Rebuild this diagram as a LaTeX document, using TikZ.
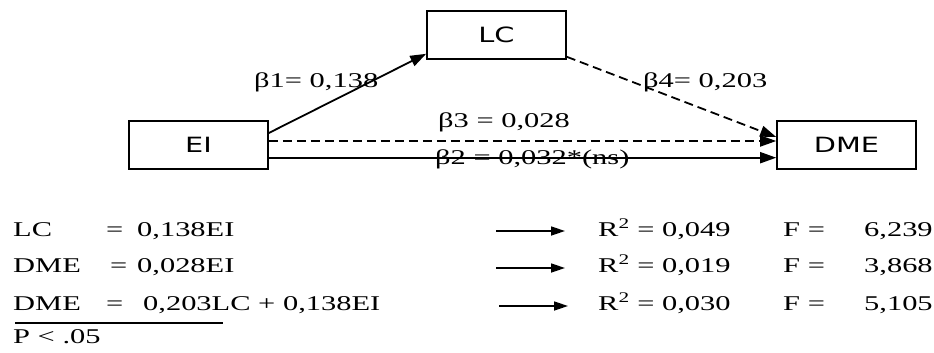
\documentclass[tikz,border=0pt]{standalone}
\usepackage{fontspec}
\setmainfont[FakeStretch=1.45]{Liberation Serif}
\newfontfamily\boxfont[FakeStretch=1.37]{DejaVu Sans}
\usetikzlibrary{arrows.meta}
\begin{document}
\begin{tikzpicture}[x=1pt,y=-1pt,
  box/.style={draw, line width=1.6pt, minimum width=139pt, minimum height=48pt, inner sep=0pt, font=\boxfont\fontsize{21}{24}\selectfont},
  arr/.style={line width=1.8pt, -{Triangle[length=16pt,width=11pt]}},
  dsh/.style={arr, dash pattern=on 9pt off 5pt},
  blab/.style={font=\fontsize{21}{24}\selectfont, inner sep=0pt, anchor=base west},
  txt/.style={font=\fontsize{21}{24}\selectfont, inner sep=0pt, anchor=base west},
  sarr/.style={line width=1.7pt, -{Triangle[length=14pt,width=9pt]}}]
\useasboundingbox (0,0) rectangle (934,353);
% boxes
\node[box] (LC) at (496.5,35) {LC};
\node[box] (EI) at (198.5,145) {EI};
\node[box] (DME) at (846.5,145) {DME};
% connectors
\draw[arr] ([yshift=12pt]EI.east) -- ([yshift=6pt]LC.south west);
\draw[dsh] ([yshift=3pt]LC.south east) -- ([yshift=8pt]DME.west);
\draw[dsh] ([yshift=4pt]EI.east) -- ([yshift=4pt]DME.west);
\draw[arr] ([yshift=-12.7pt]EI.east) -- ([yshift=-12.7pt]DME.west);
% labels
\node[blab] (b1) at (254,87) {β1= 0,138};
\node[blab] (b4) at (643,87) {β4= 0,203};
\node[blab] (b3) at (438,127) {β3 = 0,028};
\node[blab] (b2) at (435,164) {β2 = 0,032*(ns)};
% equations
\node[txt] (r1a) at (13,236) {LC};
\node[txt] (r1b) at (106,236) {=};
\node[txt] (r1c) at (137,236) {0,138EI};
\node[txt] (r2a) at (13,272) {DME};
\node[txt] (r2b) at (110,272) {=};
\node[txt] (r2c) at (137,272) {0,028EI};
\node[txt] (r3a) at (13,310) {DME};
\node[txt] (r3b) at (106,310) {=};
\node[txt] (r3c) at (143,310) {0,203LC + 0,138EI};
\coordinate (ul1) at (15,323);
\coordinate (ul2) at (223,323);
\draw[line width=1.3pt] (ul1) -- (ul2);
\node[txt] (p) at (13,343) {P < .05};
% right arrows
\coordinate (a1s) at (496,231); \coordinate (a1e) at (565,231);
\coordinate (a2s) at (496,268); \coordinate (a2e) at (565,268);
\coordinate (a3s) at (499,306); \coordinate (a3e) at (568,306);
\draw[sarr] (a1s) -- (a1e);
\draw[sarr] (a2s) -- (a2e);
\draw[sarr] (a3s) -- (a3e);
\node[txt] (q1) at (598,236) {R\textsuperscript{2} = 0,049};
\node[txt] (f1) at (783,236) {F =};
\node[txt] (v1) at (864,236) {6,239};
\node[txt] (q2) at (598,272) {R\textsuperscript{2} = 0,019};
\node[txt] (f2) at (783,272) {F =};
\node[txt] (v2) at (864,272) {3,868};
\node[txt] (q3) at (598,310) {R\textsuperscript{2} = 0,030};
\node[txt] (f3) at (783,310) {F =};
\node[txt] (v3) at (864,310) {5,105};
\end{tikzpicture}
\end{document}
